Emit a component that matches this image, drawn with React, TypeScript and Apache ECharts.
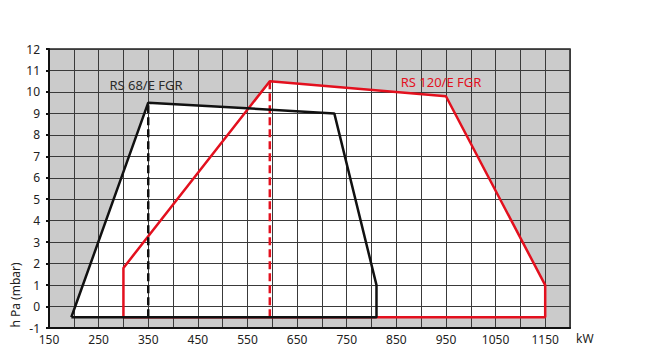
import React, { useEffect, useRef } from "react";
import * as echarts from "echarts";

const xMin = 150;
const xMax = 1200;
const yMin = -1;
const yMax = 12;

const rs68X = [195, 350, 725, 810, 810, 195];
const rs68Y = [-0.5, 9.5, 9.0, 1.0, -0.5, -0.5];
const rs68DashX = [350, 350];
const rs68DashY = [-0.5, 9.5];

const rs120X = [300, 300, 595, 950, 1150, 1150, 300];
const rs120Y = [-0.5, 1.8, 10.5, 9.8, 1.0, -0.5, -0.5];
const rs120DashX = [595, 595];
const rs120DashY = [-0.5, 10.5];

const BLACK = "#111111";
const RED = "#e3101e";
const FONT = "Noto Sans";

const pairs = (xs: number[], ys: number[]) => xs.map((x, i) => [x, ys[i]]);

export default function App() {
  const ref = useRef<HTMLDivElement>(null);
  useEffect(() => {
    if (!ref.current) return;
    const chart = echarts.init(ref.current, undefined, { renderer: "svg" });
    const poly = (api: any, xs: number[], ys: number[]) => ({
      type: "polygon",
      shape: { points: xs.map((x, i) => api.coord([x, ys[i]])) },
      style: { fill: "#ffffff", stroke: "none" },
    });
    chart.setOption({
      animation: false,
      backgroundColor: "#ffffff",
      grid: {
        left: 41,
        right: 81,
        top: 41,
        bottom: 30,
        show: true,
        backgroundColor: "#cbcbcb",
        borderColor: "#222222",
        borderWidth: 1.5,
      },
      xAxis: {
        type: "value",
        min: xMin,
        max: xMax,
        interval: 50,
        z: 3,
        axisLine: { show: true, onZero: false, lineStyle: { color: BLACK, width: 2 } },
        axisTick: { show: false },
        axisLabel: {
          color: "#222222",
          fontSize: 12,
          fontFamily: FONT,
          margin: 5,
          formatter: (v: number) => ((v - xMin) % 100 === 0 && v < xMax ? String(v) : ""),
        },
        splitLine: { show: true, lineStyle: { color: "#3a3a3a", width: 1 } },
      },
      yAxis: {
        type: "value",
        min: yMin,
        max: yMax,
        interval: 1,
        z: 3,
        axisLine: { show: true, onZero: false, lineStyle: { color: BLACK, width: 2 } },
        axisTick: { show: true, length: 3, lineStyle: { color: BLACK, width: 2 } },
        axisLabel: {
          color: "#222222",
          fontSize: 12,
          fontFamily: FONT,
          margin: 9,
        },
        splitLine: { show: true, lineStyle: { color: "#3a3a3a", width: 1 } },
      },
      series: [
        {
          type: "custom",
          z: 1,
          silent: true,
          data: [[xMin, yMin]],
          renderItem: (_p: any, api: any) => ({
            type: "group",
            children: [poly(api, rs68X, rs68Y), poly(api, rs120X, rs120Y)],
          }),
        },
        {
          type: "line",
          z: 5,
          data: pairs(rs120X, rs120Y),
          symbol: "none",
          lineStyle: { color: RED, width: 2.5 },
        },
        {
          type: "line",
          z: 5,
          data: pairs(rs120DashX, rs120DashY),
          symbol: "none",
          lineStyle: { color: RED, width: 2.5, type: [8, 4] },
        },
        {
          type: "line",
          z: 6,
          data: pairs(rs68X, rs68Y),
          symbol: "none",
          lineStyle: { color: BLACK, width: 2.5 },
        },
        {
          type: "line",
          z: 6,
          data: pairs(rs68DashX, rs68DashY),
          symbol: "none",
          lineStyle: { color: BLACK, width: 2.5, type: [8, 4] },
        },
      ],
      graphic: [
        {
          type: "text",
          x: 138,
          y: 77,
          z: 10,
          style: {
            text: "RS 68/E FGR",
            fill: "#2b2b2b",
            font: `13px "${FONT}"`,
            textAlign: "center",
            textVerticalAlign: "middle",
          },
        },
        {
          type: "text",
          x: 433,
          y: 74,
          z: 10,
          style: {
            text: "RS 120/E FGR",
            fill: RED,
            font: `13px "${FONT}"`,
            textAlign: "center",
            textVerticalAlign: "middle",
          },
        },
        {
          type: "text",
          x: 7,
          y: 287,
          rotation: Math.PI / 2,
          z: 10,
          style: {
            text: "h Pa (mbar)",
            fill: "#222222",
            font: `12px "${FONT}"`,
            textAlign: "center",
            textVerticalAlign: "middle",
          },
        },
        {
          type: "text",
          x: 568,
          y: 330,
          z: 10,
          style: {
            text: "kW",
            fill: "#222222",
            font: `12px "${FONT}"`,
            textAlign: "left",
            textVerticalAlign: "middle",
          },
        },
      ],
    });
    return () => chart.dispose();
  }, []);
  return <div ref={ref} style={{ width: 643, height: 350 }} />;
}
